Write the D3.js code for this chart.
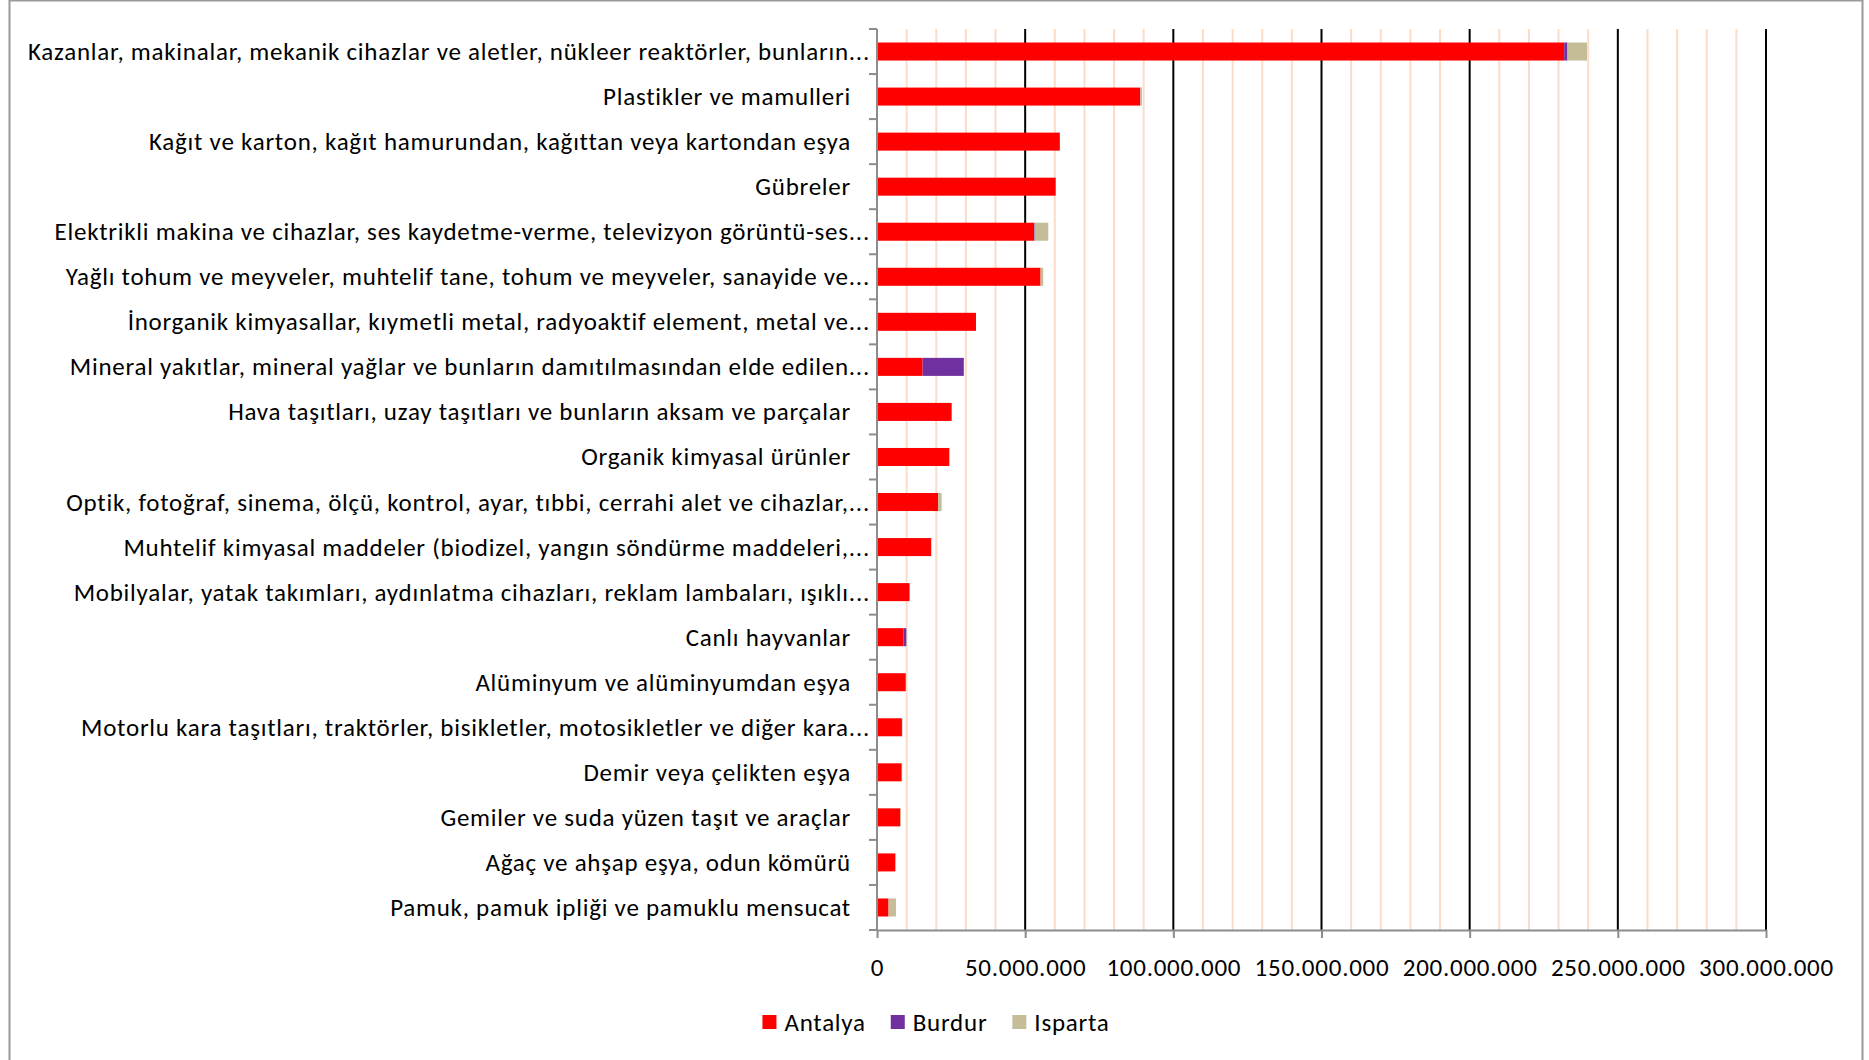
<!DOCTYPE html>
<html lang="tr">
<head>
<meta charset="UTF-8">
<title>İhracat - Antalya, Burdur, Isparta</title>
<script src="https://d3js.org/d3.v7.min.js"></script>
<style>
    body { margin: 0; background: #fff; }
    svg { display: block; }
    text { font-family: Calibri, Carlito, Lato, "Open Sans", sans-serif; fill: #000; }
</style>
</head>
<body>
<div id="chart"></div>
<script>
    // categories, top to bottom
    const categories = [
        "Kazanlar, makinalar, mekanik cihazlar ve aletler, nükleer reaktörler, bunların...",
        "Plastikler ve mamulleri",
        "Kağıt ve karton, kağıt hamurundan, kağıttan veya kartondan eşya",
        "Gübreler",
        "Elektrikli makina ve cihazlar, ses kaydetme-verme, televizyon görüntü-ses...",
        "Yağlı tohum ve meyveler, muhtelif tane, tohum ve meyveler, sanayide ve...",
        "İnorganik kimyasallar, kıymetli metal, radyoaktif element, metal ve...",
        "Mineral yakıtlar, mineral yağlar ve bunların damıtılmasından elde edilen...",
        "Hava taşıtları, uzay taşıtları ve bunların aksam ve parçalar",
        "Organik kimyasal ürünler",
        "Optik, fotoğraf, sinema, ölçü, kontrol, ayar, tıbbi, cerrahi alet ve cihazlar,...",
        "Muhtelif kimyasal maddeler (biodizel, yangın söndürme maddeleri,...",
        "Mobilyalar, yatak takımları, aydınlatma cihazları, reklam lambaları, ışıklı...",
        "Canlı hayvanlar",
        "Alüminyum ve alüminyumdan eşya",
        "Motorlu kara taşıtları, traktörler, bisikletler, motosikletler ve diğer kara...",
        "Demir veya çelikten eşya",
        "Gemiler ve suda yüzen taşıt ve araçlar",
        "Ağaç ve ahşap eşya, odun kömürü",
        "Pamuk, pamuk ipliği ve pamuklu mensucat"
    ];

    const seriesNames = ["Antalya", "Burdur", "Isparta"];

    const antalya = [231900000, 88800000, 61700000, 60300000, 53000000, 55200000, 33400000, 15400000, 25200000, 24400000,
                     20600000, 18300000, 11000000, 8900000, 9700000, 8400000, 8200000, 7900000, 6200000, 3900000];
    const burdur  = [1100000, 100000, 0, 0, 200000, 0, 0, 13900000, 0, 0,
                     0, 0, 0, 1000000, 0, 100000, 200000, 0, 0, 0];
    const isparta = [6600000, 500000, 0, 0, 4600000, 900000, 0, 0, 0, 0,
                     1200000, 0, 0, 0, 0, 100000, 100000, 200000, 0, 2500000];

    const xTicks = [0, 50000000, 100000000, 150000000, 200000000, 250000000, 300000000];

    const colors = ["#ff0000", "#7030a0", "#c4bd97"];

    const width = 1869, height = 1060;
    const margin = { top: 29, right: 103, bottom: 130, left: 877 };
    const fontSize = 25;

    const svg = d3.select("#chart").append("svg")
        .attr("width", width)
        .attr("height", height);

    // outer chart border
    svg.append("rect")
        .attr("x", 9.5).attr("y", 0.5)
        .attr("width", 1853).attr("height", 1080)
        .attr("fill", "none")
        .attr("stroke", "#9a9a9a")
        .attr("stroke-width", 2);

    const x = d3.scaleLinear()
        .domain([0, 300000000])
        .range([margin.left, width - margin.right]);

    const y = d3.scaleBand()
        .domain(categories)
        .range([margin.top, height - margin.bottom])
        .paddingInner(0.6)
        .paddingOuter(0.3);

    const trLocale = d3.formatLocale({ decimal: ",", thousands: ".", grouping: [3], currency: ["", ""] });
    const fmt = trLocale.format(",");

    // widen the fallback font a little so the longest label spans like the original
    const probe = svg.append("text").style("font-size", fontSize + "px").text(categories[0]);
    const measured = probe.node().getComputedTextLength();
    probe.remove();
    const spacing = Math.max(0, (842 - measured) / categories[0].length);

    const yTop = y.range()[0], yBot = y.range()[1];

    // minor gridlines every 10M
    const minor = d3.range(10000000, 300000001, 10000000).filter(v => v % 50000000 !== 0);
    svg.append("g").selectAll("line")
        .data(minor)
        .join("line")
        .attr("x1", d => x(d)).attr("x2", d => x(d))
        .attr("y1", yTop).attr("y2", yBot)
        .attr("stroke", "#fbdcc6")
        .attr("stroke-width", 2);

    // major gridlines
    svg.append("g").selectAll("line")
        .data(xTicks.slice(1))
        .join("line")
        .attr("x1", d => x(d)).attr("x2", d => x(d))
        .attr("y1", yTop).attr("y2", yBot)
        .attr("stroke", "#000")
        .attr("stroke-width", 2);

    // stacked bars
    const rows = categories.map((c, i) => ({ cat: c, Antalya: antalya[i], Burdur: burdur[i], Isparta: isparta[i] }));
    const stacked = d3.stack().keys(seriesNames)(rows);

    svg.append("g").selectAll("g")
        .data(stacked)
        .join("g")
        .attr("fill", (d, i) => colors[i])
        .selectAll("rect")
        .data(d => d)
        .join("rect")
        .attr("x", d => x(d[0]))
        .attr("y", d => y(d.data.cat))
        .attr("width", d => Math.max(0, x(d[1]) - x(d[0])))
        .attr("height", y.bandwidth());

    // x axis
    const xAxis = svg.append("g")
        .attr("transform", `translate(0,${yBot})`)
        .call(d3.axisBottom(x).tickValues(xTicks).tickFormat(fmt).tickSize(8).tickSizeOuter(0).tickPadding(20));
    xAxis.select(".domain").attr("stroke", "#8c8c8c").attr("stroke-width", 2);
    xAxis.selectAll(".tick line").attr("stroke", "#8c8c8c").attr("stroke-width", 2);
    xAxis.selectAll(".tick text")
        .attr("font-family", null)
        .style("font-size", fontSize + "px")
        .style("letter-spacing", spacing + "px")
        .attr("fill", "#000");

    // y axis: ticks sit on band boundaries
    const yAxisG = svg.append("g");
    const bounds = d3.range(categories.length + 1).map(i => yTop + i * y.step());
    yAxisG.append("line")
        .attr("x1", margin.left).attr("x2", margin.left)
        .attr("y1", yTop).attr("y2", yBot)
        .attr("stroke", "#8c8c8c").attr("stroke-width", 2);
    yAxisG.selectAll("line.tk")
        .data(bounds)
        .join("line")
        .attr("class", "tk")
        .attr("x1", margin.left - 8).attr("x2", margin.left)
        .attr("y1", d => d).attr("y2", d => d)
        .attr("stroke", "#8c8c8c").attr("stroke-width", 2);

    // category labels
    svg.append("g").selectAll("text")
        .data(categories)
        .join("text")
        .attr("x", d => d.endsWith("...") ? margin.left - 7 : margin.left - 26)
        .attr("y", d => y(d) + y.bandwidth() / 2)
        .attr("text-anchor", "end")
        .attr("dominant-baseline", "central")
        .style("font-size", fontSize + "px")
        .style("letter-spacing", spacing + "px")
        .text(d => d);

    // legend, centred under the chart area
    const legend = svg.append("g");
    let lx = 0;
    seriesNames.forEach((name, i) => {
        const g = legend.append("g").attr("transform", `translate(${lx},0)`);
        g.append("rect")
            .attr("x", 0).attr("y", -7)
            .attr("width", 14).attr("height", 14)
            .attr("fill", colors[i]);
        const t = g.append("text")
            .attr("x", 22).attr("y", 0)
            .attr("dominant-baseline", "central")
            .style("font-size", fontSize + "px")
            .style("letter-spacing", spacing + "px")
            .text(name);
        lx += 22 + t.node().getComputedTextLength() + 25;
    });
    const legendW = lx - 25;
    legend.attr("transform", `translate(${936 - legendW / 2},1022)`);
</script>
</body>
</html>
